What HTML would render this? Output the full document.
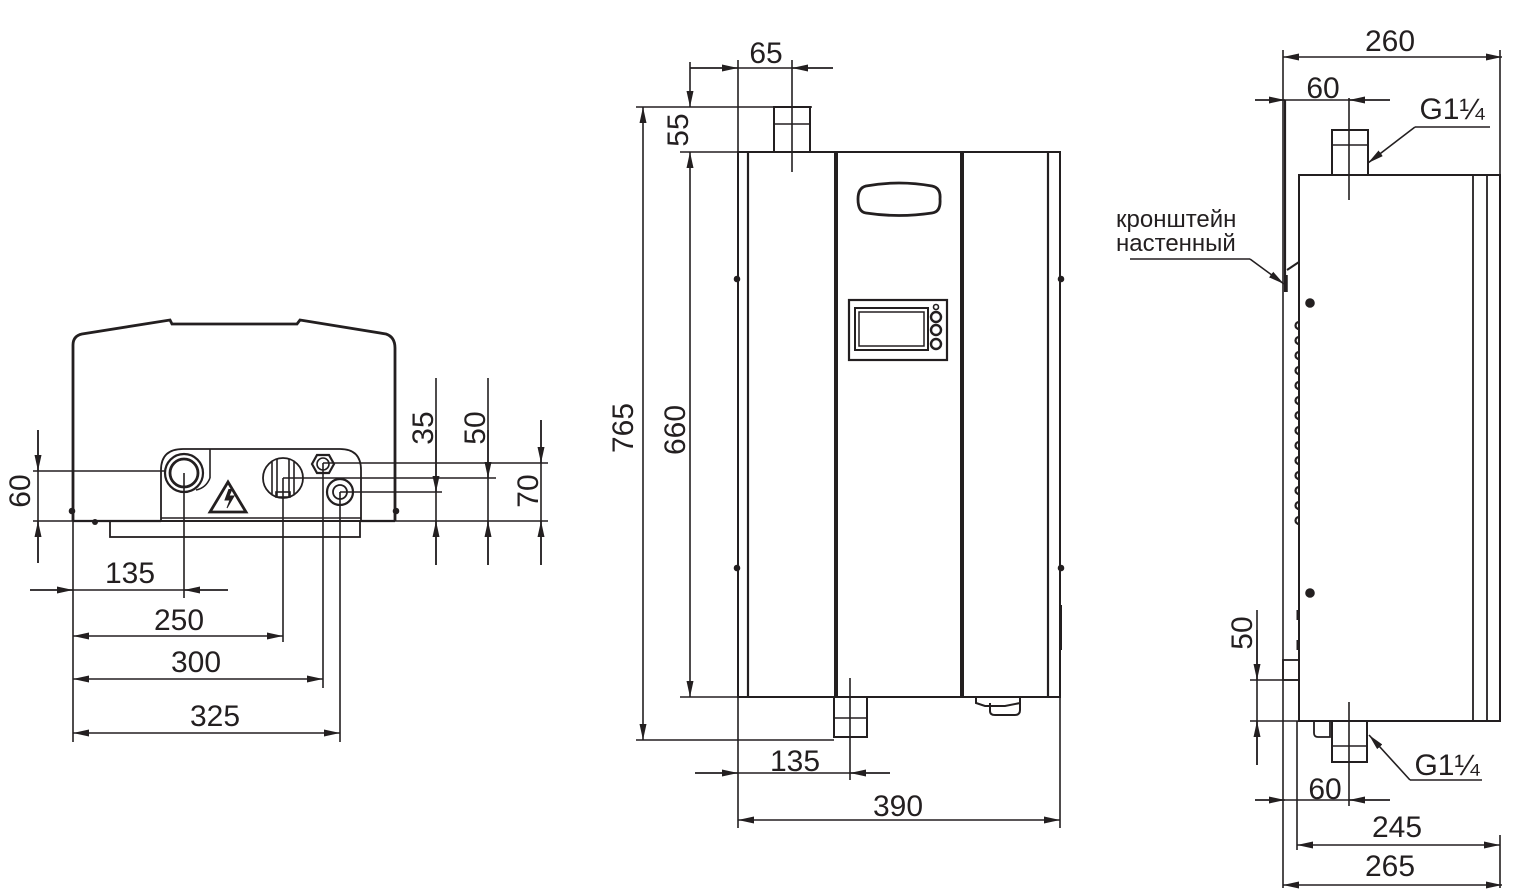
<!DOCTYPE html>
<html><head><meta charset="utf-8"><style>
html,body{margin:0;padding:0;background:#fff;}
svg{display:block;}
text{font-family:"Liberation Sans",sans-serif;fill:#231f20;}
</style></head><body>
<svg width="1535" height="894" viewBox="0 0 1535 894" xmlns="http://www.w3.org/2000/svg">
<defs>
<marker id="a" viewBox="0 0 16 7" refX="16" refY="3.5" markerWidth="16" markerHeight="7" markerUnits="userSpaceOnUse" orient="auto-start-reverse"><path d="M0,0 L16,3.5 L0,7z" fill="#231f20"/></marker>
</defs>
<g stroke="#231f20" stroke-width="1.6" fill="none">

<!-- ========== LEFT VIEW ========== -->
<path d="M73,521 L73,345 Q73,336 82,334 L170,320 L172,324 L297,324 L300,320 L386,334 Q395,337 395,348 L395,521" stroke-width="2.8"/>
<line x1="73" y1="521" x2="161" y2="521" stroke-width="2.2"/>
<line x1="361" y1="521" x2="395" y2="521" stroke-width="2.2"/>
<path d="M161,521 L161,470 Q161,449 183,449 L340,449 Q361,449 361,470 L361,521 Z" stroke-width="1.8"/>
<line x1="161" y1="518" x2="361" y2="518"/>
<rect x="110" y="521" width="250" height="16" stroke-width="1.8"/>
<line x1="210" y1="449" x2="210" y2="478"/>
<path d="M210,478 Q206,488 196,490"/>
<circle cx="184" cy="473" r="19" stroke-width="2.2"/>
<circle cx="184" cy="473" r="14" stroke-width="2.8"/>
<path d="M228,482 L210,512 L246,512 Z" stroke-width="2.8"/>
<path d="M229,489 L225,500 L230,500 L227,508 L234,496 L229,496 L232,489" fill="#231f20" stroke-width="1"/>
<circle cx="283" cy="478" r="20" stroke-width="1.8"/>
<line x1="272" y1="462" x2="272" y2="494"/><line x1="277" y1="459" x2="277" y2="497"/>
<line x1="289" y1="459" x2="289" y2="497"/><line x1="294" y1="462" x2="294" y2="494"/>
<rect x="276" y="492" width="14" height="5" stroke-width="1.6"/>
<polygon points="317,455 329,455 334,464 329,473 317,473 312,464" stroke-width="2.2"/>
<circle cx="323" cy="464" r="6"/>
<circle cx="340" cy="492" r="13" stroke-width="2.2"/>
<circle cx="340" cy="492" r="7" stroke-width="1.8"/>
<circle cx="72" cy="511" r="2.5" fill="#231f20"/><circle cx="396" cy="511" r="2.5" fill="#231f20"/>
<circle cx="95" cy="522" r="3" fill="#231f20" stroke="none"/>

<!-- left dims -->
<line x1="33" y1="471" x2="165" y2="471"/>
<line x1="33" y1="521" x2="548" y2="521"/>
<line x1="38" y1="430" x2="38" y2="563"/>
<line x1="38" y1="430" x2="38" y2="471" marker-end="url(#a)"/>
<line x1="38" y1="563" x2="38" y2="521" marker-end="url(#a)"/>
<line x1="340" y1="492" x2="442" y2="492"/>
<line x1="436" y1="378" x2="436" y2="565"/>
<line x1="436" y1="430" x2="436" y2="492" marker-end="url(#a)"/>
<line x1="436" y1="565" x2="436" y2="521" marker-end="url(#a)"/>
<line x1="283" y1="478" x2="496" y2="478"/>
<line x1="488" y1="378" x2="488" y2="565"/>
<line x1="488" y1="430" x2="488" y2="478" marker-end="url(#a)"/>
<line x1="488" y1="565" x2="488" y2="521" marker-end="url(#a)"/>
<line x1="323" y1="463" x2="548" y2="463"/>
<line x1="541" y1="420" x2="541" y2="565"/>
<line x1="541" y1="420" x2="541" y2="463" marker-end="url(#a)"/>
<line x1="541" y1="565" x2="541" y2="521" marker-end="url(#a)"/>

<line x1="73" y1="521" x2="73" y2="742"/>
<line x1="184" y1="473" x2="184" y2="598"/>
<line x1="283" y1="478" x2="283" y2="642"/>
<line x1="323" y1="463" x2="323" y2="688"/>
<line x1="340" y1="492" x2="340" y2="742"/>
<line x1="30" y1="590" x2="228" y2="590"/>
<line x1="30" y1="590" x2="73" y2="590" marker-end="url(#a)"/>
<line x1="228" y1="590" x2="184" y2="590" marker-end="url(#a)"/>
<line x1="73" y1="636" x2="283" y2="636" marker-start="url(#a)" marker-end="url(#a)"/>
<line x1="73" y1="679" x2="323" y2="679" marker-start="url(#a)" marker-end="url(#a)"/>
<line x1="73" y1="733" x2="340" y2="733" marker-start="url(#a)" marker-end="url(#a)"/>

<!-- ========== MIDDLE VIEW ========== -->
<rect x="738" y="152" width="322" height="545" stroke-width="2"/>
<line x1="748" y1="152" x2="748" y2="697" stroke-width="2.2"/>
<line x1="836" y1="152" x2="836" y2="697" stroke-width="4"/>
<line x1="962" y1="152" x2="962" y2="697" stroke-width="4"/>
<line x1="1048" y1="152" x2="1048" y2="697" stroke-width="2.2"/>
<path d="M866,186 Q899,180 932,186 Q941,188 940,199 Q941,212 932,213 Q899,218 866,213 Q858,212 858,199 Q858,188 866,186 Z" stroke-width="2.8"/>
<rect x="849" y="300" width="98" height="60" stroke-width="2.2"/>
<rect x="855" y="308" width="73" height="42" stroke-width="2"/>
<rect x="859" y="312" width="65" height="34" stroke-width="1.5"/>
<circle cx="936" cy="307" r="2.5"/>
<circle cx="936" cy="317" r="5" stroke-width="2.4"/>
<circle cx="936" cy="330" r="5" stroke-width="2.4"/>
<circle cx="936" cy="344" r="5" stroke-width="2.4"/>
<circle cx="737" cy="279" r="2.5" fill="#231f20"/><circle cx="737" cy="568" r="2.5" fill="#231f20"/>
<circle cx="1061" cy="279" r="2.5" fill="#231f20"/><circle cx="1061" cy="568" r="2.5" fill="#231f20"/>
<line x1="1061" y1="605" x2="1061" y2="650" stroke-width="2"/>
<rect x="774" y="107" width="36" height="45" stroke-width="2"/>
<line x1="774" y1="124" x2="810" y2="124"/>
<rect x="834" y="697" width="33" height="40" stroke-width="2"/>
<line x1="834" y1="718" x2="867" y2="718"/>
<path d="M976,697 L976,703 L985,706 L1005,706 L1020,703 L1020,697" stroke-width="2"/>
<path d="M990,703 L990,711 Q990,715 995,715 L1015,715 Q1020,715 1020,710 L1020,703" stroke-width="2"/>

<!-- middle dims -->
<line x1="738" y1="60" x2="738" y2="828"/>
<line x1="792" y1="60" x2="792" y2="172"/>
<line x1="690" y1="68" x2="833" y2="68"/>
<line x1="690" y1="68" x2="738" y2="68" marker-end="url(#a)"/>
<line x1="833" y1="68" x2="792" y2="68" marker-end="url(#a)"/>
<line x1="636" y1="107" x2="812" y2="107"/>
<line x1="680" y1="152" x2="738" y2="152"/>
<line x1="680" y1="697" x2="738" y2="697"/>
<line x1="636" y1="740" x2="834" y2="740"/>
<line x1="690" y1="62" x2="690" y2="107" marker-end="url(#a)"/>
<line x1="690" y1="152" x2="690" y2="697" marker-start="url(#a)" marker-end="url(#a)"/>
<line x1="643" y1="107" x2="643" y2="740" marker-start="url(#a)" marker-end="url(#a)"/>
<line x1="850" y1="678" x2="850" y2="780"/>
<line x1="695" y1="773" x2="890" y2="773"/>
<line x1="695" y1="773" x2="738" y2="773" marker-end="url(#a)"/>
<line x1="890" y1="773" x2="850" y2="773" marker-end="url(#a)"/>
<line x1="1060" y1="697" x2="1060" y2="828"/>
<line x1="738" y1="820" x2="1060" y2="820" marker-start="url(#a)" marker-end="url(#a)"/>

<!-- ========== RIGHT VIEW ========== -->
<rect x="1299" y="175" width="201" height="546" stroke-width="2"/>
<line x1="1473" y1="175" x2="1473" y2="721" stroke-width="1.8"/>
<line x1="1487" y1="175" x2="1487" y2="721" stroke-width="1.8"/>
<rect x="1332" y="130" width="36" height="45" stroke-width="2"/>
<line x1="1332" y1="145" x2="1368" y2="145"/>
<line x1="1349" y1="98" x2="1349" y2="200"/>
<line x1="1285" y1="100" x2="1285" y2="292" stroke-width="2.2"/>
<line x1="1286" y1="275" x2="1286" y2="292" stroke-width="3.5"/>
<path d="M1287,270 L1299,262" stroke-width="2"/>
<circle cx="1310" cy="303" r="4" fill="#231f20"/>
<circle cx="1310" cy="593" r="4" fill="#231f20"/>
<path d="M1299,322 a3,3 0 0,0 0,7 M1299,337 a3,3 0 0,0 0,7 M1299,352 a3,3 0 0,0 0,7 M1299,367 a3,3 0 0,0 0,7 M1299,382 a3,3 0 0,0 0,7 M1299,397 a3,3 0 0,0 0,7 M1299,412 a3,3 0 0,0 0,7 M1299,427 a3,3 0 0,0 0,7 M1299,442 a3,3 0 0,0 0,7 M1299,457 a3,3 0 0,0 0,7 M1299,472 a3,3 0 0,0 0,7 M1299,487 a3,3 0 0,0 0,7 M1299,502 a3,3 0 0,0 0,7 M1299,517 a3,3 0 0,0 0,7" stroke-width="2.2"/>
<line x1="1298" y1="610" x2="1298" y2="620" stroke-width="3"/>
<line x1="1298" y1="640" x2="1298" y2="650" stroke-width="3"/>
<rect x="1283" y="660" width="16" height="20" stroke-width="1.8"/>
<rect x="1332" y="721" width="35" height="41" stroke-width="2"/>
<line x1="1332" y1="746" x2="1367" y2="746"/>
<path d="M1314,721 L1314,733 Q1314,737 1318,737 L1330,737 L1330,721" stroke-width="1.8"/>
<line x1="1349" y1="702" x2="1349" y2="806"/>

<!-- right dims -->
<line x1="1283" y1="50" x2="1283" y2="888"/>
<line x1="1500" y1="50" x2="1500" y2="721"/>
<line x1="1500" y1="835" x2="1500" y2="888"/>
<line x1="1283" y1="57" x2="1502" y2="57" marker-start="url(#a)" marker-end="url(#a)"/>
<line x1="1255" y1="100" x2="1390" y2="100"/>
<line x1="1255" y1="100" x2="1285" y2="100" marker-end="url(#a)"/>
<line x1="1390" y1="100" x2="1349" y2="100" marker-end="url(#a)"/>
<line x1="1415" y1="127" x2="1490" y2="127"/>
<line x1="1415" y1="127" x2="1368" y2="163" marker-end="url(#a)"/>
<line x1="1130" y1="259" x2="1250" y2="259"/>
<line x1="1250" y1="259" x2="1284" y2="284" marker-end="url(#a)"/>
<line x1="1250" y1="680" x2="1300" y2="680"/>
<line x1="1250" y1="721" x2="1500" y2="721"/>
<line x1="1257" y1="610" x2="1257" y2="765"/>
<line x1="1257" y1="630" x2="1257" y2="680" marker-end="url(#a)"/>
<line x1="1257" y1="765" x2="1257" y2="721" marker-end="url(#a)"/>
<line x1="1297" y1="721" x2="1297" y2="850"/>
<line x1="1482" y1="780" x2="1410" y2="780"/>
<line x1="1410" y1="780" x2="1369" y2="735" marker-end="url(#a)"/>
<line x1="1255" y1="800" x2="1390" y2="800"/>
<line x1="1255" y1="800" x2="1285" y2="800" marker-end="url(#a)"/>
<line x1="1390" y1="800" x2="1349" y2="800" marker-end="url(#a)"/>
<line x1="1297" y1="845" x2="1500" y2="845" marker-start="url(#a)" marker-end="url(#a)"/>
<line x1="1283" y1="885" x2="1502" y2="885" marker-start="url(#a)" marker-end="url(#a)"/>
</g>

<!-- texts -->
<g font-size="30" text-anchor="middle">
<text x="130" y="583">135</text>
<text x="179" y="630">250</text>
<text x="196" y="672">300</text>
<text x="215" y="726">325</text>
<text transform="translate(30,491) rotate(-90)">60</text>
<text transform="translate(433,428) rotate(-90)">35</text>
<text transform="translate(485,428) rotate(-90)">50</text>
<text transform="translate(538,491) rotate(-90)">70</text>

<text x="766" y="63">65</text>
<text transform="translate(688,130) rotate(-90)">55</text>
<text transform="translate(633,428) rotate(-90)">765</text>
<text transform="translate(685,430) rotate(-90)">660</text>
<text x="795" y="771">135</text>
<text x="898" y="816">390</text>

<text x="1390" y="51">260</text>
<text x="1323" y="98">60</text>
<text x="1452" y="119">G1¼</text>
<text transform="translate(1252,633) rotate(-90)">50</text>
<text x="1447" y="775">G1¼</text>
<text x="1325" y="799">60</text>
<text x="1397" y="837">245</text>
<text x="1390" y="876">265</text>
</g>
<g font-size="24">
<text x="1116" y="227">кронштейн</text>
<text x="1116" y="251">настенный</text>
</g>
</svg>
</body></html>
